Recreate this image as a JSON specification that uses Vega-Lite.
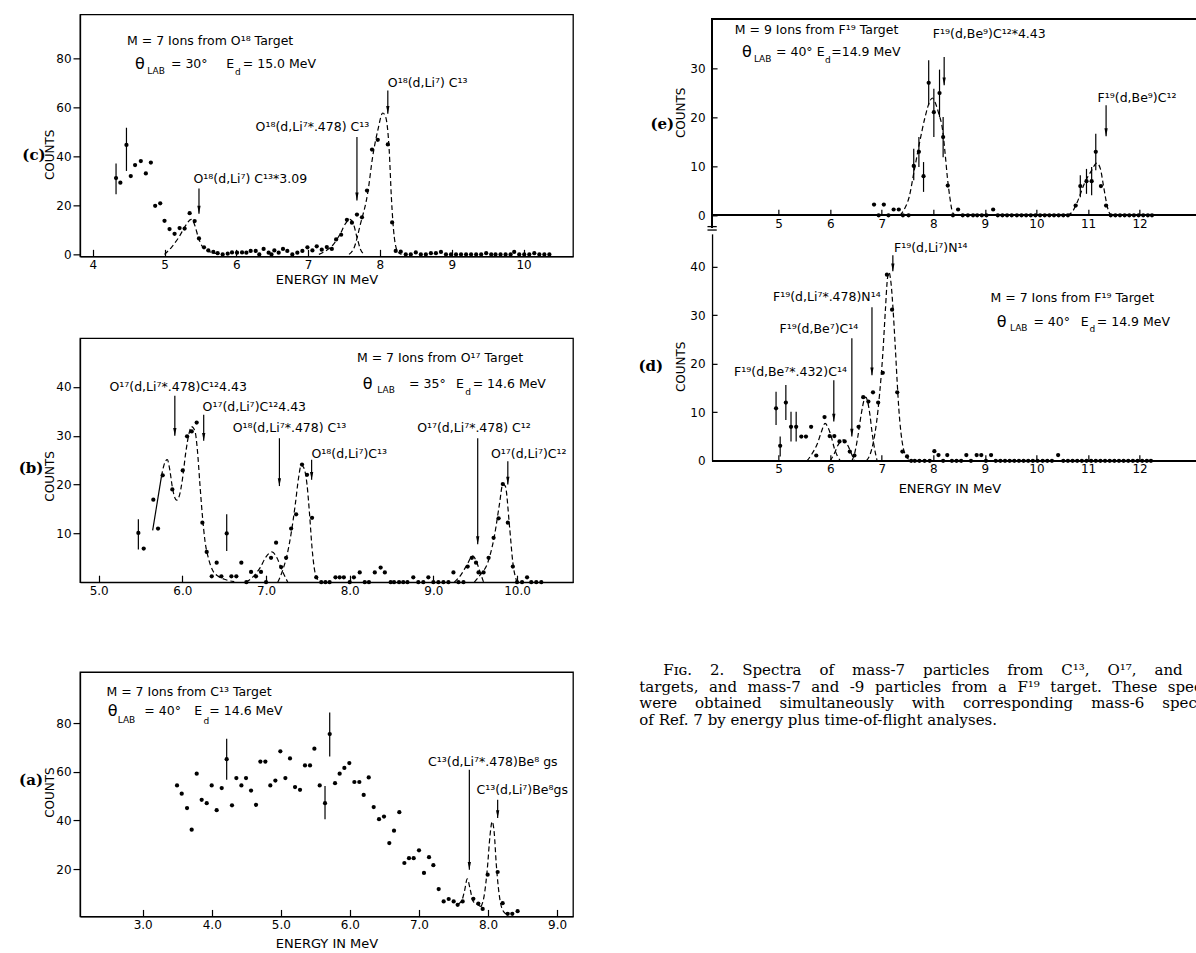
{
"$schema":"https://vega.github.io/schema/vega-lite/v6.json",
"background":"white",
"padding":{"left":0,"top":13.35,"right":0,"bottom":0},
"config":{"view":{"stroke":"black","strokeWidth":1.3},
"axis":{"domainColor":"black","domainWidth":1.3,"tickColor":"black","tickWidth":1.2,"labelColor":"black","labelFont":"DejaVu Sans","labelFontSize":12,"titleFont":"DejaVu Sans","titleFontSize":13,"titleFontWeight":"normal","titleColor":"black","grid":false,"labelFlush":false,"labelOverlap":false},
"font":"DejaVu Sans"},
"resolve":{"scale":{"x":"independent","y":"independent"}},
"datasets":{
"c":[
{"kind":"p","x":4.325,"y":31.1},{"kind":"p","x":4.385,"y":29.2},{"kind":"p","x":4.47,"y":44.6},{"kind":"p","x":4.53,"y":31.9},{"kind":"p","x":4.59,"y":36.4},{"kind":"p","x":4.67,"y":38.0},{"kind":"p","x":4.74,"y":33.0},{"kind":"p","x":4.81,"y":37.4},{"kind":"p","x":4.87,"y":19.8},{"kind":"p","x":4.94,"y":20.8},{"kind":"p","x":5.0,"y":13.7},{"kind":"p","x":5.07,"y":10.3},{"kind":"p","x":5.14,"y":8.4},{"kind":"p","x":5.21,"y":10.7},{"kind":"p","x":5.28,"y":10.5},{"kind":"p","x":5.35,"y":16.8},{"kind":"p","x":5.42,"y":13.6},{"kind":"p","x":5.48,"y":6.5},{"kind":"p","x":5.55,"y":2.9},{"kind":"p","x":5.61,"y":1.6},{"kind":"p","x":5.68,"y":1.0},{"kind":"p","x":5.74,"y":0.5},{"kind":"p","x":5.81,"y":0},{"kind":"p","x":5.88,"y":0.3},{"kind":"p","x":5.94,"y":0.8},{"kind":"p","x":6.01,"y":0.7},{"kind":"p","x":6.08,"y":0.8},{"kind":"p","x":6.14,"y":0.7},{"kind":"p","x":6.2,"y":1.4},{"kind":"p","x":6.27,"y":1.4},{"kind":"p","x":6.32,"y":0},{"kind":"p","x":6.38,"y":2.2},{"kind":"p","x":6.45,"y":0.7},{"kind":"p","x":6.49,"y":0},{"kind":"p","x":6.53,"y":1.6},{"kind":"p","x":6.59,"y":0.7},{"kind":"p","x":6.65,"y":2.2},{"kind":"p","x":6.71,"y":1.4},{"kind":"p","x":6.78,"y":0},{"kind":"p","x":6.85,"y":0.7},{"kind":"p","x":6.92,"y":1.4},{"kind":"p","x":6.99,"y":2.9},{"kind":"p","x":7.06,"y":1.6},{"kind":"p","x":7.12,"y":3.3},{"kind":"p","x":7.19,"y":1.9},{"kind":"p","x":7.26,"y":3.0},{"kind":"p","x":7.33,"y":2.2},{"kind":"p","x":7.39,"y":6.1},{"kind":"p","x":7.46,"y":8.0},{"kind":"p","x":7.54,"y":14.1},{"kind":"p","x":7.61,"y":12.9},{"kind":"p","x":7.68,"y":16.2},{"kind":"p","x":7.75,"y":15.1},{"kind":"p","x":7.82,"y":26.0},{"kind":"p","x":7.89,"y":42.7},{"kind":"p","x":7.97,"y":46.7},{"kind":"p","x":8.11,"y":44.8},{"kind":"p","x":8.17,"y":13.0},{"kind":"p","x":8.22,"y":1.4},{"kind":"p","x":8.29,"y":1.1},{"kind":"p","x":8.36,"y":0},{"kind":"p","x":8.43,"y":0},{"kind":"p","x":8.5,"y":0.8},{"kind":"p","x":8.57,"y":0},{"kind":"p","x":8.64,"y":0},{"kind":"p","x":8.71,"y":0.5},{"kind":"p","x":8.78,"y":0.5},{"kind":"p","x":8.85,"y":1.0},{"kind":"p","x":8.92,"y":0},{"kind":"p","x":8.99,"y":0},{"kind":"p","x":9.06,"y":0},{"kind":"p","x":9.13,"y":0},{"kind":"p","x":9.2,"y":0},{"kind":"p","x":9.27,"y":0},{"kind":"p","x":9.34,"y":0},{"kind":"p","x":9.41,"y":0},{"kind":"p","x":9.48,"y":0.5},{"kind":"p","x":9.55,"y":0},{"kind":"p","x":9.61,"y":0},{"kind":"p","x":9.68,"y":0},{"kind":"p","x":9.75,"y":0},{"kind":"p","x":9.82,"y":0},{"kind":"p","x":9.87,"y":1.0},{"kind":"p","x":9.94,"y":0},{"kind":"p","x":10.01,"y":0},{"kind":"p","x":10.08,"y":0},{"kind":"p","x":10.15,"y":0.5},{"kind":"p","x":10.22,"y":0},{"kind":"p","x":10.29,"y":0},{"kind":"p","x":10.36,"y":0},
{"kind":"e","x":4.325,"y":24.5,"y2":37.0},{"kind":"e","x":4.47,"y":34.0,"y2":51.6},
{"kind":"f","f":"1","x":5.0,"y":0},{"kind":"f","f":"1","x":5.1,"y":3},{"kind":"f","f":"1","x":5.2,"y":7},{"kind":"f","f":"1","x":5.3,"y":12},{"kind":"f","f":"1","x":5.37,"y":14.3},{"kind":"f","f":"1","x":5.42,"y":12},{"kind":"f","f":"1","x":5.47,"y":7},{"kind":"f","f":"1","x":5.52,"y":3.5},{"kind":"f","f":"1","x":5.6,"y":1.5},{"kind":"f","f":"1","x":5.7,"y":0.5},{"kind":"f","f":"1","x":5.8,"y":0},
{"kind":"f","f":"2","x":7.15,"y":0},{"kind":"f","f":"2","x":7.25,"y":1.5},{"kind":"f","f":"2","x":7.35,"y":4},{"kind":"f","f":"2","x":7.45,"y":8.5},{"kind":"f","f":"2","x":7.52,"y":12.5},{"kind":"f","f":"2","x":7.58,"y":14.3},{"kind":"f","f":"2","x":7.63,"y":12.5},{"kind":"f","f":"2","x":7.68,"y":7},{"kind":"f","f":"2","x":7.73,"y":2},{"kind":"f","f":"2","x":7.78,"y":0},
{"kind":"f","f":"3","x":7.57,"y":0},{"kind":"f","f":"3","x":7.64,"y":2.7},{"kind":"f","f":"3","x":7.73,"y":12.5},{"kind":"f","f":"3","x":7.83,"y":25},{"kind":"f","f":"3","x":7.9,"y":40},{"kind":"f","f":"3","x":7.97,"y":50.5},{"kind":"f","f":"3","x":8.04,"y":57.6},{"kind":"f","f":"3","x":8.08,"y":56},{"kind":"f","f":"3","x":8.13,"y":42},{"kind":"f","f":"3","x":8.16,"y":23},{"kind":"f","f":"3","x":8.2,"y":7},{"kind":"f","f":"3","x":8.25,"y":1},{"kind":"f","f":"3","x":8.3,"y":0},
{"kind":"a","x":8.11,"y":66.8,"y2":57.3},{"kind":"a","x":7.68,"y":47.8,"y2":22},{"kind":"a","x":5.48,"y":26.8,"y2":16.6},
{"kind":"tc","x":5.635,"y":87,"t":"M = 7 Ions from O¹⁸ Target"},
{"kind":"tc","x":8.665,"y":70,"t":"O¹⁸(d,Li⁷) C¹³"},
{"kind":"tc","x":7.06,"y":52,"t":"O¹⁸(d,Li⁷*.478) C¹³"},
{"kind":"tc","x":6.195,"y":30.8,"t":"O¹⁸(d,Li⁷) C¹³*3.09"},
{"kind":"tl","k":"t","x":4.59,"y":77.7,"t":"θ"},{"kind":"tl","k":"s","x":4.76,"y":74.7,"t":"LAB"},{"kind":"tl","k":"l","x":5.09,"y":77.7,"t":"= 30°"},{"kind":"tl","k":"l","x":5.86,"y":77.7,"t":"E"},{"kind":"tl","k":"s","x":5.98,"y":74.2,"t":"d"},{"kind":"tl","k":"l","x":6.09,"y":77.7,"t":"= 15.0 MeV"},
{"kind":"pl","x":3.182,"y":40.3,"t":"(c)"}
],
"b":[
{"kind":"p","x":5.474,"y":10.1},{"kind":"p","x":5.538,"y":6.9},{"kind":"p","x":5.653,"y":16.9},{"kind":"p","x":5.709,"y":11.0},{"kind":"p","x":5.765,"y":21.9},{"kind":"p","x":5.88,"y":19.0},{"kind":"p","x":6.004,"y":22.9},{"kind":"p","x":6.056,"y":29.9},{"kind":"p","x":6.112,"y":30.9},{"kind":"p","x":6.171,"y":32.7},{"kind":"p","x":6.239,"y":12.2},{"kind":"p","x":6.291,"y":6.2},{"kind":"p","x":6.351,"y":1.2},{"kind":"p","x":6.41,"y":4.0},{"kind":"p","x":6.466,"y":1.2},{"kind":"p","x":6.53,"y":10.0},{"kind":"p","x":6.586,"y":1.2},{"kind":"p","x":6.645,"y":1.2},{"kind":"p","x":6.705,"y":4.0},{"kind":"p","x":6.765,"y":0},{"kind":"p","x":6.821,"y":2.1},{"kind":"p","x":6.88,"y":1.2},{"kind":"p","x":6.94,"y":2.1},{"kind":"p","x":7.0,"y":0},{"kind":"p","x":7.06,"y":5.0},{"kind":"p","x":7.12,"y":8.1},{"kind":"p","x":7.18,"y":3.1},{"kind":"p","x":7.24,"y":5.0},{"kind":"p","x":7.3,"y":11.0},{"kind":"p","x":7.36,"y":13.9},{"kind":"p","x":7.43,"y":24.1},{"kind":"p","x":7.49,"y":22.0},{"kind":"p","x":7.55,"y":13.2},{"kind":"p","x":7.6,"y":1.0},{"kind":"p","x":7.66,"y":0},{"kind":"p","x":7.71,"y":0},{"kind":"p","x":7.76,"y":0},{"kind":"p","x":7.83,"y":1},{"kind":"p","x":7.88,"y":1},{"kind":"p","x":7.93,"y":1},{"kind":"p","x":8.0,"y":0},{"kind":"p","x":8.05,"y":1},{"kind":"p","x":8.12,"y":2},{"kind":"p","x":8.18,"y":0},{"kind":"p","x":8.23,"y":0},{"kind":"p","x":8.3,"y":2},{"kind":"p","x":8.37,"y":3},{"kind":"p","x":8.42,"y":2},{"kind":"p","x":8.49,"y":0},{"kind":"p","x":8.53,"y":0},{"kind":"p","x":8.59,"y":0},{"kind":"p","x":8.64,"y":0},{"kind":"p","x":8.69,"y":0},{"kind":"p","x":8.76,"y":1},{"kind":"p","x":8.82,"y":0},{"kind":"p","x":8.88,"y":0},{"kind":"p","x":8.94,"y":1},{"kind":"p","x":9.0,"y":0},{"kind":"p","x":9.06,"y":0},{"kind":"p","x":9.12,"y":0},{"kind":"p","x":9.18,"y":0},{"kind":"p","x":9.24,"y":2},{"kind":"p","x":9.3,"y":0},{"kind":"p","x":9.36,"y":0},{"kind":"p","x":9.41,"y":3.2},{"kind":"p","x":9.46,"y":5.0},{"kind":"p","x":9.51,"y":4.0},{"kind":"p","x":9.54,"y":2.0},{"kind":"p","x":9.6,"y":2.0},{"kind":"p","x":9.66,"y":5.0},{"kind":"p","x":9.72,"y":9.1},{"kind":"p","x":9.78,"y":13.1},{"kind":"p","x":9.83,"y":20.1},{"kind":"p","x":9.89,"y":12.2},{"kind":"p","x":9.95,"y":3.2},{"kind":"p","x":10.0,"y":0},{"kind":"p","x":10.06,"y":0},{"kind":"p","x":10.12,"y":1},{"kind":"p","x":10.17,"y":0},{"kind":"p","x":10.23,"y":0},{"kind":"p","x":10.29,"y":0},
{"kind":"e","x":5.474,"y":6.7,"y2":12.9},{"kind":"e","x":6.53,"y":6.4,"y2":13.9},
{"kind":"s","x":5.645,"y":10.6},{"kind":"s","x":5.75,"y":21.7},
{"kind":"f","f":"A","x":5.75,"y":21.7},{"kind":"f","f":"A","x":5.78,"y":24},{"kind":"f","f":"A","x":5.82,"y":25.1},{"kind":"f","f":"A","x":5.85,"y":23},{"kind":"f","f":"A","x":5.88,"y":19.5},{"kind":"f","f":"A","x":5.91,"y":17.3},{"kind":"f","f":"A","x":5.93,"y":16.8},{"kind":"f","f":"A","x":5.96,"y":17.5},{"kind":"f","f":"A","x":6.0,"y":21},{"kind":"f","f":"A","x":6.04,"y":26.5},{"kind":"f","f":"A","x":6.08,"y":30.5},{"kind":"f","f":"A","x":6.11,"y":31.9},{"kind":"f","f":"A","x":6.15,"y":31},{"kind":"f","f":"A","x":6.18,"y":27},{"kind":"f","f":"A","x":6.21,"y":20},{"kind":"f","f":"A","x":6.24,"y":13.5},{"kind":"f","f":"A","x":6.27,"y":8.5},{"kind":"f","f":"A","x":6.31,"y":5},{"kind":"f","f":"A","x":6.36,"y":2.5},{"kind":"f","f":"A","x":6.43,"y":1.2},{"kind":"f","f":"A","x":6.52,"y":0.5},{"kind":"f","f":"A","x":6.62,"y":0.1},
{"kind":"f","f":"B","x":6.76,"y":0},{"kind":"f","f":"B","x":6.85,"y":1.2},{"kind":"f","f":"B","x":6.93,"y":3},{"kind":"f","f":"B","x":7.0,"y":5.2},{"kind":"f","f":"B","x":7.07,"y":6.2},{"kind":"f","f":"B","x":7.13,"y":5},{"kind":"f","f":"B","x":7.19,"y":2.5},{"kind":"f","f":"B","x":7.26,"y":0},
{"kind":"f","f":"C","x":7.14,"y":0},{"kind":"f","f":"C","x":7.2,"y":2.5},{"kind":"f","f":"C","x":7.25,"y":5.5},{"kind":"f","f":"C","x":7.3,"y":10},{"kind":"f","f":"C","x":7.35,"y":16},{"kind":"f","f":"C","x":7.39,"y":21.5},{"kind":"f","f":"C","x":7.42,"y":24},{"kind":"f","f":"C","x":7.45,"y":23.5},{"kind":"f","f":"C","x":7.49,"y":20},{"kind":"f","f":"C","x":7.52,"y":14},{"kind":"f","f":"C","x":7.55,"y":7},{"kind":"f","f":"C","x":7.58,"y":2.5},{"kind":"f","f":"C","x":7.62,"y":0.5},
{"kind":"f","f":"D","x":9.25,"y":0},{"kind":"f","f":"D","x":9.33,"y":1.5},{"kind":"f","f":"D","x":9.4,"y":3.5},{"kind":"f","f":"D","x":9.47,"y":5.4},{"kind":"f","f":"D","x":9.52,"y":4},{"kind":"f","f":"D","x":9.56,"y":2},{"kind":"f","f":"D","x":9.6,"y":0},
{"kind":"f","f":"E","x":9.49,"y":0},{"kind":"f","f":"E","x":9.56,"y":1.5},{"kind":"f","f":"E","x":9.65,"y":4},{"kind":"f","f":"E","x":9.73,"y":9.5},{"kind":"f","f":"E","x":9.79,"y":16},{"kind":"f","f":"E","x":9.83,"y":20.1},{"kind":"f","f":"E","x":9.86,"y":19.7},{"kind":"f","f":"E","x":9.91,"y":11.5},{"kind":"f","f":"E","x":9.95,"y":4},{"kind":"f","f":"E","x":10.0,"y":0},
{"kind":"a","x":5.91,"y":38.2,"y2":30},{"kind":"a","x":6.255,"y":34.3,"y2":29},{"kind":"a","x":7.16,"y":29.5,"y2":19.7},{"kind":"a","x":7.545,"y":25.1,"y2":21},{"kind":"a","x":9.53,"y":29.5,"y2":7.8},{"kind":"a","x":9.89,"y":24.8,"y2":20},
{"kind":"tc","x":9.08,"y":45.9,"t":"M = 7 Ions from O¹⁷ Target"},
{"kind":"tc","x":5.95,"y":40,"t":"O¹⁷(d,Li⁷*.478)C¹²4.43"},
{"kind":"tc","x":6.86,"y":35.9,"t":"O¹⁷(d,Li⁷)C¹²4.43"},
{"kind":"tc","x":7.28,"y":31.6,"t":"O¹⁸(d,Li⁷*.478) C¹³"},
{"kind":"tc","x":7.995,"y":26.3,"t":"O¹⁸(d,Li⁷)C¹³"},
{"kind":"tc","x":9.485,"y":31.6,"t":"O¹⁷(d,Li⁷*.478) C¹²"},
{"kind":"tc","x":10.14,"y":26.3,"t":"O¹⁷(d,Li⁷)C¹²"},
{"kind":"tl","k":"t","x":8.155,"y":40.7,"t":"θ"},{"kind":"tl","k":"s","x":8.33,"y":39.3,"t":"LAB"},{"kind":"tl","k":"l","x":8.71,"y":40.7,"t":"= 35°"},{"kind":"tl","k":"l","x":9.27,"y":40.7,"t":"E"},{"kind":"tl","k":"s","x":9.38,"y":39.0,"t":"d"},{"kind":"tl","k":"l","x":9.47,"y":40.7,"t":"= 14.6 MeV"},
{"kind":"pl","x":4.191,"y":23.3,"t":"(b)"}
],
"a":[
{"kind":"p","x":3.497,"y":54.4},{"kind":"p","x":3.565,"y":51.0},{"kind":"p","x":3.642,"y":45.1},{"kind":"p","x":3.709,"y":36.2},{"kind":"p","x":3.782,"y":59.2},{"kind":"p","x":3.854,"y":48.5},{"kind":"p","x":3.927,"y":47.1},{"kind":"p","x":3.999,"y":54.4},{"kind":"p","x":4.071,"y":44.2},{"kind":"p","x":4.144,"y":53.3},{"kind":"p","x":4.216,"y":65.2},{"kind":"p","x":4.293,"y":46.2},{"kind":"p","x":4.356,"y":57.4},{"kind":"p","x":4.429,"y":54.4},{"kind":"p","x":4.496,"y":57.4},{"kind":"p","x":4.569,"y":52.3},{"kind":"p","x":4.641,"y":46.4},{"kind":"p","x":4.704,"y":64.2},{"kind":"p","x":4.776,"y":64.2},{"kind":"p","x":4.848,"y":54.4},{"kind":"p","x":4.921,"y":56.4},{"kind":"p","x":4.993,"y":68.4},{"kind":"p","x":5.066,"y":57.4},{"kind":"p","x":5.133,"y":65.5},{"kind":"p","x":5.206,"y":53.7},{"kind":"p","x":5.278,"y":52.6},{"kind":"p","x":5.35,"y":62.6},{"kind":"p","x":5.423,"y":62.6},{"kind":"p","x":5.486,"y":69.5},{"kind":"p","x":5.563,"y":54.4},{"kind":"p","x":5.64,"y":47.1},{"kind":"p","x":5.708,"y":75.5},{"kind":"p","x":5.785,"y":55.3},{"kind":"p","x":5.852,"y":59.2},{"kind":"p","x":5.92,"y":61.6},{"kind":"p","x":5.992,"y":63.6},{"kind":"p","x":6.065,"y":55.8},{"kind":"p","x":6.137,"y":55.8},{"kind":"p","x":6.2,"y":50.5},{"kind":"p","x":6.273,"y":57.7},{"kind":"p","x":6.345,"y":45.5},{"kind":"p","x":6.422,"y":40.5},{"kind":"p","x":6.494,"y":41.6},{"kind":"p","x":6.571,"y":30.7},{"kind":"p","x":6.639,"y":35.8},{"kind":"p","x":6.716,"y":43.4},{"kind":"p","x":6.789,"y":22.5},{"kind":"p","x":6.856,"y":24.5},{"kind":"p","x":6.924,"y":24.5},{"kind":"p","x":7.001,"y":27.7},{"kind":"p","x":7.073,"y":18.4},{"kind":"p","x":7.146,"y":24.9},{"kind":"p","x":7.209,"y":21.6},{"kind":"p","x":7.286,"y":11.8},{"kind":"p","x":7.358,"y":6.7},{"kind":"p","x":7.431,"y":7.7},{"kind":"p","x":7.503,"y":6.7},{"kind":"p","x":7.561,"y":5.3},{"kind":"p","x":7.633,"y":6.7},{"kind":"p","x":7.788,"y":7.8},{"kind":"p","x":7.86,"y":5.8},{"kind":"p","x":7.923,"y":3.6},{"kind":"p","x":7.995,"y":17.7},{"kind":"p","x":8.14,"y":18.8},{"kind":"p","x":8.212,"y":6.0},{"kind":"p","x":8.285,"y":1.6},{"kind":"p","x":8.352,"y":1.6},{"kind":"p","x":8.429,"y":2.7},
{"kind":"e","x":4.216,"y":56.7,"y2":73.6},{"kind":"e","x":5.64,"y":40.5,"y2":54.2},{"kind":"e","x":5.708,"y":66.3,"y2":84.4},
{"kind":"f","f":"s","x":7.56,"y":5.5},{"kind":"f","f":"s","x":7.62,"y":7},{"kind":"f","f":"s","x":7.66,"y":11},{"kind":"f","f":"s","x":7.7,"y":16},{"kind":"f","f":"s","x":7.74,"y":12},{"kind":"f","f":"s","x":7.78,"y":7},{"kind":"f","f":"s","x":7.84,"y":5.5},{"kind":"f","f":"s","x":7.9,"y":4.5},
{"kind":"f","f":"b","x":7.9,"y":4.5},{"kind":"f","f":"b","x":7.95,"y":10},{"kind":"f","f":"b","x":7.99,"y":20},{"kind":"f","f":"b","x":8.03,"y":34},{"kind":"f","f":"b","x":8.06,"y":39.5},{"kind":"f","f":"b","x":8.09,"y":35},{"kind":"f","f":"b","x":8.12,"y":22},{"kind":"f","f":"b","x":8.16,"y":10},{"kind":"f","f":"b","x":8.2,"y":4},{"kind":"f","f":"b","x":8.26,"y":1.5},
{"kind":"a","x":7.73,"y":60.8,"y2":19.7},{"kind":"a","x":8.14,"y":48.5,"y2":41},
{"kind":"tc","x":3.67,"y":92.6,"t":"M = 7 Ions from C¹³ Target"},
{"kind":"tc","x":8.07,"y":64.2,"t":"C¹³(d,Li⁷*.478)Be⁸ gs"},
{"kind":"tc","x":8.495,"y":52.6,"t":"C¹³(d,Li⁷)Be⁸gs"},
{"kind":"tl","k":"t","x":2.493,"y":84.8,"t":"θ"},{"kind":"tl","k":"s","x":2.638,"y":81.4,"t":"LAB"},{"kind":"tl","k":"l","x":3.024,"y":84.8,"t":"= 40°"},{"kind":"tl","k":"l","x":3.748,"y":84.8,"t":"E"},{"kind":"tl","k":"s","x":3.88,"y":80.7,"t":"d"},{"kind":"tl","k":"l","x":3.965,"y":84.8,"t":"= 14.6 MeV"},
{"kind":"pl","x":1.383,"y":56.7,"t":"(a)"}
],
"e":[
{"kind":"p","x":6.85,"y":2.2},{"kind":"p","x":6.94,"y":0},{"kind":"p","x":7.04,"y":2.2},{"kind":"p","x":7.13,"y":0},{"kind":"p","x":7.23,"y":1.2},{"kind":"p","x":7.33,"y":1.2},{"kind":"p","x":7.41,"y":0},{"kind":"p","x":7.52,"y":0},{"kind":"p","x":7.62,"y":10.1},{"kind":"p","x":7.72,"y":13.0},{"kind":"p","x":7.81,"y":8.0},{"kind":"p","x":7.91,"y":27.1},{"kind":"p","x":8.01,"y":21.1},{"kind":"p","x":8.12,"y":25.0},{"kind":"p","x":8.19,"y":16.0},{"kind":"p","x":8.28,"y":6.1},{"kind":"p","x":8.38,"y":0},{"kind":"p","x":8.48,"y":1.2},{"kind":"p","x":8.57,"y":0},{"kind":"p","x":8.67,"y":0},{"kind":"p","x":8.77,"y":0},{"kind":"p","x":8.85,"y":0},{"kind":"p","x":8.94,"y":0},{"kind":"p","x":9.03,"y":0},{"kind":"p","x":9.16,"y":1.2},{"kind":"p","x":9.25,"y":0},{"kind":"p","x":9.34,"y":0},{"kind":"p","x":9.43,"y":0},{"kind":"p","x":9.52,"y":0},{"kind":"p","x":9.62,"y":0},{"kind":"p","x":9.71,"y":0},{"kind":"p","x":9.8,"y":0},{"kind":"p","x":9.89,"y":0},{"kind":"p","x":9.98,"y":0},{"kind":"p","x":10.07,"y":0},{"kind":"p","x":10.16,"y":0},{"kind":"p","x":10.25,"y":0},{"kind":"p","x":10.34,"y":0},{"kind":"p","x":10.43,"y":0},{"kind":"p","x":10.52,"y":0},{"kind":"p","x":10.61,"y":0},{"kind":"p","x":10.76,"y":2.0},{"kind":"p","x":10.85,"y":6.0},{"kind":"p","x":10.97,"y":7.0},{"kind":"p","x":11.07,"y":7.0},{"kind":"p","x":11.15,"y":13.0},{"kind":"p","x":11.25,"y":6.0},{"kind":"p","x":11.35,"y":2.0},{"kind":"p","x":11.44,"y":0},{"kind":"p","x":11.53,"y":0},{"kind":"p","x":11.62,"y":0},{"kind":"p","x":11.71,"y":0},{"kind":"p","x":11.8,"y":0},{"kind":"p","x":11.89,"y":0},{"kind":"p","x":11.98,"y":0},{"kind":"p","x":12.07,"y":0},{"kind":"p","x":12.16,"y":0},{"kind":"p","x":12.24,"y":0},
{"kind":"e","x":7.62,"y":7.2,"y2":13.6},{"kind":"e","x":7.72,"y":9.9,"y2":16.0},{"kind":"e","x":7.81,"y":4.8,"y2":10.9},{"kind":"e","x":7.91,"y":22.5,"y2":31.7},{"kind":"e","x":8.01,"y":16.0,"y2":25.9},{"kind":"e","x":8.12,"y":20.1,"y2":29.8},{"kind":"e","x":8.19,"y":11.9,"y2":20.1},{"kind":"e","x":10.85,"y":3.7,"y2":8.2},{"kind":"e","x":10.97,"y":4.4,"y2":9.5},{"kind":"e","x":11.07,"y":4.1,"y2":9.9},{"kind":"e","x":11.15,"y":9.2,"y2":16.7},
{"kind":"f","f":"1","x":7.35,"y":0},{"kind":"f","f":"1","x":7.45,"y":1.5},{"kind":"f","f":"1","x":7.53,"y":3.7},{"kind":"f","f":"1","x":7.63,"y":9.2},{"kind":"f","f":"1","x":7.73,"y":14.7},{"kind":"f","f":"1","x":7.84,"y":20.1},{"kind":"f","f":"1","x":7.94,"y":23.5},{"kind":"f","f":"1","x":7.98,"y":24},{"kind":"f","f":"1","x":8.03,"y":23.2},{"kind":"f","f":"1","x":8.1,"y":21},{"kind":"f","f":"1","x":8.18,"y":17.4},{"kind":"f","f":"1","x":8.23,"y":12.5},{"kind":"f","f":"1","x":8.27,"y":8},{"kind":"f","f":"1","x":8.32,"y":3.7},{"kind":"f","f":"1","x":8.37,"y":0.7},{"kind":"f","f":"1","x":8.42,"y":0},
{"kind":"f","f":"2","x":10.6,"y":0},{"kind":"f","f":"2","x":10.7,"y":0.8},{"kind":"f","f":"2","x":10.79,"y":2.7},{"kind":"f","f":"2","x":10.93,"y":6.5},{"kind":"f","f":"2","x":11.07,"y":9.2},{"kind":"f","f":"2","x":11.17,"y":10.7},{"kind":"f","f":"2","x":11.24,"y":9.5},{"kind":"f","f":"2","x":11.3,"y":6},{"kind":"f","f":"2","x":11.35,"y":3},{"kind":"f","f":"2","x":11.4,"y":0.8},{"kind":"f","f":"2","x":11.45,"y":0},
{"kind":"a","x":8.21,"y":32.4,"y2":26.6},{"kind":"a","x":11.35,"y":22.5,"y2":16.2},
{"kind":"tc","x":5.735,"y":37.9,"t":"M = 9 Ions from F¹⁹ Target"},
{"kind":"tc","x":9.085,"y":37.0,"t":"F¹⁹(d,Be⁹)C¹²*4.43"},
{"kind":"tc","x":11.95,"y":23.9,"t":"F¹⁹(d,Be⁹)C¹²"},
{"kind":"tl","k":"t","x":4.29,"y":33.4,"t":"θ"},{"kind":"tl","k":"s","x":4.52,"y":32.0,"t":"LAB"},{"kind":"tl","k":"l","x":4.95,"y":33.4,"t":"= 40°"},{"kind":"tl","k":"l","x":5.74,"y":33.4,"t":"E"},{"kind":"tl","k":"s","x":5.9,"y":31.8,"t":"d"},{"kind":"tl","k":"l","x":6.02,"y":33.4,"t":"=14.9 MeV"},
{"kind":"pl","x":2.745,"y":18.6,"t":"(e)"},
{"kind":"br","x":3.62,"x2":3.8,"y":-2.3},{"kind":"br","x":3.62,"x2":3.8,"y":-3.0}
],
"d":[
{"kind":"p","x":4.95,"y":10.8},{"kind":"p","x":5.03,"y":3.1},{"kind":"p","x":5.14,"y":12.0},{"kind":"p","x":5.24,"y":7.0},{"kind":"p","x":5.34,"y":7.0},{"kind":"p","x":5.44,"y":5.0},{"kind":"p","x":5.53,"y":5.0},{"kind":"p","x":5.63,"y":7.0},{"kind":"p","x":5.73,"y":1.1},{"kind":"p","x":5.89,"y":9.0},{"kind":"p","x":5.99,"y":5.1},{"kind":"p","x":6.08,"y":5.1},{"kind":"p","x":6.18,"y":4.0},{"kind":"p","x":6.28,"y":4.0},{"kind":"p","x":6.38,"y":1.9},{"kind":"p","x":6.47,"y":1.1},{"kind":"p","x":6.55,"y":7.0},{"kind":"p","x":6.64,"y":13.1},{"kind":"p","x":6.74,"y":12.2},{"kind":"p","x":6.83,"y":14.1},{"kind":"p","x":6.93,"y":12.0},{"kind":"p","x":7.02,"y":18.1},{"kind":"p","x":7.1,"y":38.3},{"kind":"p","x":7.2,"y":31.1},{"kind":"p","x":7.3,"y":14.1},{"kind":"p","x":7.4,"y":1.9},{"kind":"p","x":7.49,"y":0.9},{"kind":"p","x":7.57,"y":0},{"kind":"p","x":7.64,"y":0},{"kind":"p","x":7.73,"y":0},{"kind":"p","x":7.83,"y":0},{"kind":"p","x":7.93,"y":0},{"kind":"p","x":8.02,"y":2.0},{"kind":"p","x":8.1,"y":1.2},{"kind":"p","x":8.19,"y":0},{"kind":"p","x":8.27,"y":1.2},{"kind":"p","x":8.36,"y":0},{"kind":"p","x":8.45,"y":0},{"kind":"p","x":8.54,"y":0},{"kind":"p","x":8.64,"y":1.2},{"kind":"p","x":8.73,"y":0},{"kind":"p","x":8.84,"y":1.2},{"kind":"p","x":8.93,"y":1.2},{"kind":"p","x":9.02,"y":0},{"kind":"p","x":9.12,"y":1.2},{"kind":"p","x":9.21,"y":0},{"kind":"p","x":9.3,"y":0},{"kind":"p","x":9.39,"y":0},{"kind":"p","x":9.48,"y":0},{"kind":"p","x":9.57,"y":0},{"kind":"p","x":9.66,"y":0},{"kind":"p","x":9.75,"y":0},{"kind":"p","x":9.84,"y":0},{"kind":"p","x":9.93,"y":0},{"kind":"p","x":10.02,"y":0},{"kind":"p","x":10.12,"y":0},{"kind":"p","x":10.21,"y":0},{"kind":"p","x":10.3,"y":0},{"kind":"p","x":10.42,"y":1.2},{"kind":"p","x":10.52,"y":0},{"kind":"p","x":10.61,"y":0},{"kind":"p","x":10.7,"y":0},{"kind":"p","x":10.79,"y":0},{"kind":"p","x":10.88,"y":0},{"kind":"p","x":10.97,"y":0},{"kind":"p","x":11.06,"y":0},{"kind":"p","x":11.15,"y":0},{"kind":"p","x":11.24,"y":0},{"kind":"p","x":11.33,"y":0},{"kind":"p","x":11.42,"y":0},{"kind":"p","x":11.51,"y":0},{"kind":"p","x":11.6,"y":0},{"kind":"p","x":11.69,"y":0},{"kind":"p","x":11.78,"y":0},{"kind":"p","x":11.87,"y":0},{"kind":"p","x":11.96,"y":0},{"kind":"p","x":12.05,"y":0},{"kind":"p","x":12.14,"y":0},{"kind":"p","x":12.22,"y":0},
{"kind":"e","x":4.95,"y":7.4,"y2":14.2},{"kind":"e","x":5.03,"y":0.9,"y2":5.0},{"kind":"e","x":5.14,"y":8.4,"y2":15.6},{"kind":"e","x":5.24,"y":4.0,"y2":10.1},{"kind":"e","x":5.34,"y":4.0,"y2":10.1},
{"kind":"f","f":"A","x":5.55,"y":0},{"kind":"f","f":"A","x":5.65,"y":1.5},{"kind":"f","f":"A","x":5.75,"y":3.5},{"kind":"f","f":"A","x":5.83,"y":6},{"kind":"f","f":"A","x":5.9,"y":7.7},{"kind":"f","f":"A","x":5.96,"y":6.8},{"kind":"f","f":"A","x":6.02,"y":5},{"kind":"f","f":"A","x":6.08,"y":2.6},{"kind":"f","f":"A","x":6.14,"y":1},{"kind":"f","f":"A","x":6.2,"y":0},
{"kind":"f","f":"B","x":6.0,"y":0},{"kind":"f","f":"B","x":6.08,"y":1.5},{"kind":"f","f":"B","x":6.16,"y":3.4},{"kind":"f","f":"B","x":6.26,"y":4.3},{"kind":"f","f":"B","x":6.34,"y":3.2},{"kind":"f","f":"B","x":6.41,"y":1.5},{"kind":"f","f":"B","x":6.47,"y":0},
{"kind":"f","f":"C","x":6.42,"y":0},{"kind":"f","f":"C","x":6.48,"y":1.8},{"kind":"f","f":"C","x":6.53,"y":4.6},{"kind":"f","f":"C","x":6.6,"y":9.5},{"kind":"f","f":"C","x":6.66,"y":12.6},{"kind":"f","f":"C","x":6.69,"y":13.1},{"kind":"f","f":"C","x":6.73,"y":12},{"kind":"f","f":"C","x":6.77,"y":9.5},{"kind":"f","f":"C","x":6.81,"y":6},{"kind":"f","f":"C","x":6.86,"y":2.5},{"kind":"f","f":"C","x":6.91,"y":0},
{"kind":"f","f":"D","x":6.7,"y":0},{"kind":"f","f":"D","x":6.78,"y":1.5},{"kind":"f","f":"D","x":6.84,"y":4},{"kind":"f","f":"D","x":6.9,"y":8},{"kind":"f","f":"D","x":6.96,"y":14},{"kind":"f","f":"D","x":7.02,"y":22},{"kind":"f","f":"D","x":7.07,"y":31},{"kind":"f","f":"D","x":7.11,"y":37.5},{"kind":"f","f":"D","x":7.14,"y":38.8},{"kind":"f","f":"D","x":7.18,"y":36.5},{"kind":"f","f":"D","x":7.22,"y":31},{"kind":"f","f":"D","x":7.26,"y":23.8},{"kind":"f","f":"D","x":7.3,"y":16},{"kind":"f","f":"D","x":7.33,"y":10.8},{"kind":"f","f":"D","x":7.37,"y":6},{"kind":"f","f":"D","x":7.41,"y":3},{"kind":"f","f":"D","x":7.46,"y":1.2},{"kind":"f","f":"D","x":7.52,"y":0.3},
{"kind":"a","x":7.215,"y":42.3,"y2":39},{"kind":"a","x":6.81,"y":31.6,"y2":17.6},{"kind":"a","x":6.42,"y":25.2,"y2":5},{"kind":"a","x":6.07,"y":16.6,"y2":8.1},
{"kind":"tc","x":7.95,"y":43.7,"t":"F¹⁹(d,Li⁷)N¹⁴"},
{"kind":"tc","x":5.935,"y":33.7,"t":"F¹⁹(d,Li⁷*.478)N¹⁴"},
{"kind":"tc","x":5.78,"y":27.1,"t":"F¹⁹(d,Be⁷)C¹⁴"},
{"kind":"tc","x":5.23,"y":18.3,"t":"F¹⁹(d,Be⁷*.432)C¹⁴"},
{"kind":"tc","x":10.695,"y":33.4,"t":"M = 7 Ions from F¹⁹ Target"},
{"kind":"tl","k":"t","x":9.23,"y":28.6,"t":"θ"},{"kind":"tl","k":"s","x":9.485,"y":27.4,"t":"LAB"},{"kind":"tl","k":"l","x":9.94,"y":28.6,"t":"= 40°"},{"kind":"tl","k":"l","x":10.86,"y":28.6,"t":"E"},{"kind":"tl","k":"s","x":11.03,"y":27.2,"t":"d"},{"kind":"tl","k":"l","x":11.17,"y":28.6,"t":"= 14.9 MeV"},
{"kind":"pl","x":2.52,"y":19.6,"t":"(d)"}
]
},
"hconcat":[
{"vconcat":[
{"width":493,"height":242,"data":{"name":"c"},
"encoding":{"x":{"field":"x","type":"quantitative","scale":{"domain":[3.823,10.689],"nice":false,"zero":false},"axis":{"values":[4,5,6,7,8,9,10],"format":"d","tickSize":-7,"labelPadding":10,"minExtent":13,"maxExtent":13,"title":"ENERGY IN MeV","titlePadding":4}},
"y":{"field":"y","type":"quantitative","scale":{"domain":[-0.8,97.8],"nice":false,"zero":false},"axis":{"values":[0,20,40,60,80],"tickSize":7,"labelPadding":2,"minExtent":79,"maxExtent":79,"title":"COUNTS","titleX":-31,"titleY":140,"titleAngle":-90,"titleBaseline":"middle","titleAlign":"center","titleFontSize":12}}},
"layer":[
{"transform":[{"filter":"datum.kind==='e'"}],"mark":{"type":"rule","color":"black","strokeWidth":1.2},"encoding":{"y2":{"field":"y2"}}},
{"transform":[{"filter":"datum.kind==='f'"}],"mark":{"type":"line","color":"black","strokeWidth":1.2,"strokeDash":[5,3],"interpolate":"monotone"},"encoding":{"detail":{"field":"f","type":"nominal"}}},
{"transform":[{"filter":"datum.kind==='p'"}],"mark":{"type":"point","filled":true,"size":18,"color":"black","opacity":1}},
{"transform":[{"filter":"datum.kind==='a'"}],"mark":{"type":"rule","color":"black","strokeWidth":1.2},"encoding":{"y2":{"field":"y2"}}},
{"transform":[{"filter":"datum.kind==='a'"}],"mark":{"type":"point","shape":"M0,0L-0.55,-2.6L0.55,-2.6Z","filled":true,"size":36,"color":"black","opacity":1},"encoding":{"y":{"field":"y2","type":"quantitative"}}},
{"transform":[{"filter":"datum.kind==='tc'"}],"mark":{"type":"text","font":"DejaVu Sans","fontSize":12.5,"align":"center","baseline":"middle","color":"black","clip":true},"encoding":{"text":{"field":"t"}}},
{"transform":[{"filter":"datum.kind==='tl' && datum.k==='l'"}],"mark":{"type":"text","font":"DejaVu Sans","fontSize":12.5,"align":"left","baseline":"middle","color":"black","clip":true},"encoding":{"text":{"field":"t"}}},
{"transform":[{"filter":"datum.kind==='tl' && datum.k==='s'"}],"mark":{"type":"text","font":"DejaVu Sans","fontSize":9,"align":"left","baseline":"middle","color":"black","clip":true},"encoding":{"text":{"field":"t"}}},
{"transform":[{"filter":"datum.kind==='tl' && datum.k==='t'"}],"mark":{"type":"text","font":"DejaVu Sans","fontSize":16,"align":"left","baseline":"middle","color":"black","clip":true},"encoding":{"text":{"field":"t"}}},
{"transform":[{"filter":"datum.kind==='pl'"}],"mark":{"type":"text","font":"DejaVu Serif","fontSize":15,"fontWeight":"bold","align":"center","baseline":"middle","color":"black"},"encoding":{"text":{"field":"t"}}}
]},
{"width":493,"height":244,"data":{"name":"b"},
"encoding":{"x":{"field":"x","type":"quantitative","scale":{"domain":[4.7765,10.669],"nice":false,"zero":false},"axis":{"values":[5,6,7,8,9,10],"format":".1f","tickSize":-7,"labelPadding":10,"minExtent":37.7,"maxExtent":37.7,"title":null}},
"y":{"field":"y","type":"quantitative","scale":{"domain":[0,50],"nice":false,"zero":false},"axis":{"values":[10,20,30,40],"tickSize":7,"labelPadding":2,"minExtent":79,"maxExtent":79,"title":"COUNTS","titleX":-31,"titleY":137.7,"titleAngle":-90,"titleBaseline":"middle","titleAlign":"center","titleFontSize":12}}},
"layer":[
{"transform":[{"filter":"datum.kind==='e'"}],"mark":{"type":"rule","color":"black","strokeWidth":1.2},"encoding":{"y2":{"field":"y2"}}},
{"transform":[{"filter":"datum.kind==='f'"}],"mark":{"type":"line","color":"black","strokeWidth":1.2,"strokeDash":[5,3],"interpolate":"monotone"},"encoding":{"detail":{"field":"f","type":"nominal"}}},
{"transform":[{"filter":"datum.kind==='s'"}],"mark":{"type":"line","color":"black","strokeWidth":1.2}},
{"transform":[{"filter":"datum.kind==='p'"}],"mark":{"type":"point","filled":true,"size":18,"color":"black","opacity":1}},
{"transform":[{"filter":"datum.kind==='a'"}],"mark":{"type":"rule","color":"black","strokeWidth":1.2},"encoding":{"y2":{"field":"y2"}}},
{"transform":[{"filter":"datum.kind==='a'"}],"mark":{"type":"point","shape":"M0,0L-0.55,-2.6L0.55,-2.6Z","filled":true,"size":36,"color":"black","opacity":1},"encoding":{"y":{"field":"y2","type":"quantitative"}}},
{"transform":[{"filter":"datum.kind==='tc'"}],"mark":{"type":"text","font":"DejaVu Sans","fontSize":12.5,"align":"center","baseline":"middle","color":"black","clip":true},"encoding":{"text":{"field":"t"}}},
{"transform":[{"filter":"datum.kind==='tl' && datum.k==='l'"}],"mark":{"type":"text","font":"DejaVu Sans","fontSize":12.5,"align":"left","baseline":"middle","color":"black","clip":true},"encoding":{"text":{"field":"t"}}},
{"transform":[{"filter":"datum.kind==='tl' && datum.k==='s'"}],"mark":{"type":"text","font":"DejaVu Sans","fontSize":9,"align":"left","baseline":"middle","color":"black","clip":true},"encoding":{"text":{"field":"t"}}},
{"transform":[{"filter":"datum.kind==='tl' && datum.k==='t'"}],"mark":{"type":"text","font":"DejaVu Sans","fontSize":16,"align":"left","baseline":"middle","color":"black","clip":true},"encoding":{"text":{"field":"t"}}},
{"transform":[{"filter":"datum.kind==='pl'"}],"mark":{"type":"text","font":"DejaVu Serif","fontSize":15,"fontWeight":"bold","align":"center","baseline":"middle","color":"black"},"encoding":{"text":{"field":"t"}}}
]},
{"width":493,"height":244.4,"data":{"name":"a"},
"encoding":{"x":{"field":"x","type":"quantitative","scale":{"domain":[2.092,9.231],"nice":false,"zero":false},"axis":{"values":[3,4,5,6,7,8,9],"format":".1f","tickSize":-7,"labelPadding":10,"minExtent":13,"maxExtent":13,"title":"ENERGY IN MeV","titlePadding":8}},
"y":{"field":"y","type":"quantitative","scale":{"domain":[0.53,101],"nice":false,"zero":false},"axis":{"values":[20,40,60,80],"tickSize":7,"labelPadding":2,"minExtent":79,"maxExtent":79,"title":"COUNTS","titleX":-31,"titleY":120,"titleAngle":-90,"titleBaseline":"middle","titleAlign":"center","titleFontSize":12}}},
"layer":[
{"transform":[{"filter":"datum.kind==='e'"}],"mark":{"type":"rule","color":"black","strokeWidth":1.2},"encoding":{"y2":{"field":"y2"}}},
{"transform":[{"filter":"datum.kind==='f'"}],"mark":{"type":"line","color":"black","strokeWidth":1.2,"strokeDash":[5,3],"interpolate":"monotone"},"encoding":{"detail":{"field":"f","type":"nominal"}}},
{"transform":[{"filter":"datum.kind==='p'"}],"mark":{"type":"point","filled":true,"size":18,"color":"black","opacity":1}},
{"transform":[{"filter":"datum.kind==='a'"}],"mark":{"type":"rule","color":"black","strokeWidth":1.2},"encoding":{"y2":{"field":"y2"}}},
{"transform":[{"filter":"datum.kind==='a'"}],"mark":{"type":"point","shape":"M0,0L-0.55,-2.6L0.55,-2.6Z","filled":true,"size":36,"color":"black","opacity":1},"encoding":{"y":{"field":"y2","type":"quantitative"}}},
{"transform":[{"filter":"datum.kind==='tc'"}],"mark":{"type":"text","font":"DejaVu Sans","fontSize":12.5,"align":"center","baseline":"middle","color":"black","clip":true},"encoding":{"text":{"field":"t"}}},
{"transform":[{"filter":"datum.kind==='tl' && datum.k==='l'"}],"mark":{"type":"text","font":"DejaVu Sans","fontSize":12.5,"align":"left","baseline":"middle","color":"black","clip":true},"encoding":{"text":{"field":"t"}}},
{"transform":[{"filter":"datum.kind==='tl' && datum.k==='s'"}],"mark":{"type":"text","font":"DejaVu Sans","fontSize":9,"align":"left","baseline":"middle","color":"black","clip":true},"encoding":{"text":{"field":"t"}}},
{"transform":[{"filter":"datum.kind==='tl' && datum.k==='t'"}],"mark":{"type":"text","font":"DejaVu Sans","fontSize":16,"align":"left","baseline":"middle","color":"black","clip":true},"encoding":{"text":{"field":"t"}}},
{"transform":[{"filter":"datum.kind==='pl'"}],"mark":{"type":"text","font":"DejaVu Serif","fontSize":15,"fontWeight":"bold","align":"center","baseline":"middle","color":"black"},"encoding":{"text":{"field":"t"}}}
]}
],"spacing":49.85,"resolve":{"scale":{"x":"independent","y":"independent"}}},
{"vconcat":[
{"width":557.5,"height":213,"view":{"stroke":null,"fill":"white"},"data":{"name":"e"},
"encoding":{"x":{"field":"x","type":"quantitative","scale":{"domain":[2.299,13.11],"nice":false,"zero":false},"axis":{"values":[5,6,7,8,9,10,11,12],"format":"d","domain":false,"tickSize":-6,"labelPadding":9,"offset":-12,"minExtent":15,"maxExtent":15,"title":null}},
"y":{"field":"y","type":"quantitative","scale":{"domain":[-2.45,41.1],"nice":false,"zero":false},"axis":{"values":[0,10,20,30],"domain":false,"offset":-72.7,"tickSize":-5,"labelPadding":12,"minExtent":20,"maxExtent":20,"title":"COUNTS","titleX":-31.7,"titleY":98,"titleAngle":-90,"titleBaseline":"middle","titleAlign":"center","titleFontSize":12}}},
"layer":[
{"mark":{"type":"rule","color":"black","strokeWidth":1.3},"encoding":{"x":{"datum":3.709},"x2":{"datum":13.11},"y":{"datum":40.2}}},
{"mark":{"type":"rule","color":"black","strokeWidth":1.3},"encoding":{"x":{"datum":3.709},"x2":{"datum":13.11},"y":{"datum":0}}},
{"mark":{"type":"rule","color":"black","strokeWidth":1.3},"encoding":{"x":{"datum":3.709},"y":{"datum":-2.45},"y2":{"datum":40.2}}},
{"transform":[{"filter":"datum.kind==='br'"}],"mark":{"type":"rule","color":"black","strokeWidth":1.3},"encoding":{"x2":{"field":"x2"}}},
{"transform":[{"filter":"datum.kind==='e'"}],"mark":{"type":"rule","color":"black","strokeWidth":1.2},"encoding":{"y2":{"field":"y2"}}},
{"transform":[{"filter":"datum.kind==='f'"}],"mark":{"type":"line","color":"black","strokeWidth":1.2,"strokeDash":[5,3],"interpolate":"monotone"},"encoding":{"detail":{"field":"f","type":"nominal"}}},
{"transform":[{"filter":"datum.kind==='p'"}],"mark":{"type":"point","filled":true,"size":18,"color":"black","opacity":1}},
{"transform":[{"filter":"datum.kind==='a'"}],"mark":{"type":"rule","color":"black","strokeWidth":1.2},"encoding":{"y2":{"field":"y2"}}},
{"transform":[{"filter":"datum.kind==='a'"}],"mark":{"type":"point","shape":"M0,0L-0.55,-2.6L0.55,-2.6Z","filled":true,"size":36,"color":"black","opacity":1},"encoding":{"y":{"field":"y2","type":"quantitative"}}},
{"transform":[{"filter":"datum.kind==='tc'"}],"mark":{"type":"text","font":"DejaVu Sans","fontSize":12.5,"align":"center","baseline":"middle","color":"black","clip":true},"encoding":{"text":{"field":"t"}}},
{"transform":[{"filter":"datum.kind==='tl' && datum.k==='l'"}],"mark":{"type":"text","font":"DejaVu Sans","fontSize":12.5,"align":"left","baseline":"middle","color":"black","clip":true},"encoding":{"text":{"field":"t"}}},
{"transform":[{"filter":"datum.kind==='tl' && datum.k==='s'"}],"mark":{"type":"text","font":"DejaVu Sans","fontSize":9,"align":"left","baseline":"middle","color":"black","clip":true},"encoding":{"text":{"field":"t"}}},
{"transform":[{"filter":"datum.kind==='tl' && datum.k==='t'"}],"mark":{"type":"text","font":"DejaVu Sans","fontSize":16,"align":"left","baseline":"middle","color":"black","clip":true},"encoding":{"text":{"field":"t"}}},
{"transform":[{"filter":"datum.kind==='pl'"}],"mark":{"type":"text","font":"DejaVu Serif","fontSize":15,"fontWeight":"bold","align":"center","baseline":"middle","color":"black","clip":true},"encoding":{"text":{"field":"t"}}}
]},
{"width":557.5,"height":227,"view":{"stroke":null,"fill":"white"},"data":{"name":"d"},
"encoding":{"x":{"field":"x","type":"quantitative","scale":{"domain":[2.299,13.11],"nice":false,"zero":false},"axis":{"values":[5,6,7,8,9,10,11,12],"format":"d","domain":false,"tickSize":-6,"labelPadding":9,"minExtent":15,"maxExtent":15,"title":"ENERGY IN MeV","titleX":310,"titleY":22}},
"y":{"field":"y","type":"quantitative","scale":{"domain":[0,46.7],"nice":false,"zero":false},"axis":{"values":[0,10,20,30,40],"domain":true,"offset":-72.7,"tickSize":-5,"labelPadding":12,"minExtent":20,"maxExtent":20,"title":"COUNTS","titleX":-31.7,"titleY":132.5,"titleAngle":-90,"titleBaseline":"middle","titleAlign":"center","titleFontSize":12}}},
"layer":[
{"mark":{"type":"rule","color":"black","strokeWidth":1.3},"encoding":{"x":{"datum":3.709},"x2":{"datum":13.11},"y":{"datum":0}}},
{"transform":[{"filter":"datum.kind==='e'"}],"mark":{"type":"rule","color":"black","strokeWidth":1.2},"encoding":{"y2":{"field":"y2"}}},
{"transform":[{"filter":"datum.kind==='f'"}],"mark":{"type":"line","color":"black","strokeWidth":1.2,"strokeDash":[5,3],"interpolate":"monotone"},"encoding":{"detail":{"field":"f","type":"nominal"}}},
{"transform":[{"filter":"datum.kind==='p'"}],"mark":{"type":"point","filled":true,"size":18,"color":"black","opacity":1}},
{"transform":[{"filter":"datum.kind==='a'"}],"mark":{"type":"rule","color":"black","strokeWidth":1.2},"encoding":{"y2":{"field":"y2"}}},
{"transform":[{"filter":"datum.kind==='a'"}],"mark":{"type":"point","shape":"M0,0L-0.55,-2.6L0.55,-2.6Z","filled":true,"size":36,"color":"black","opacity":1},"encoding":{"y":{"field":"y2","type":"quantitative"}}},
{"transform":[{"filter":"datum.kind==='tc'"}],"mark":{"type":"text","font":"DejaVu Sans","fontSize":12.5,"align":"center","baseline":"middle","color":"black","clip":true},"encoding":{"text":{"field":"t"}}},
{"transform":[{"filter":"datum.kind==='tl' && datum.k==='l'"}],"mark":{"type":"text","font":"DejaVu Sans","fontSize":12.5,"align":"left","baseline":"middle","color":"black","clip":true},"encoding":{"text":{"field":"t"}}},
{"transform":[{"filter":"datum.kind==='tl' && datum.k==='s'"}],"mark":{"type":"text","font":"DejaVu Sans","fontSize":9,"align":"left","baseline":"middle","color":"black","clip":true},"encoding":{"text":{"field":"t"}}},
{"transform":[{"filter":"datum.kind==='tl' && datum.k==='t'"}],"mark":{"type":"text","font":"DejaVu Sans","fontSize":16,"align":"left","baseline":"middle","color":"black","clip":true},"encoding":{"text":{"field":"t"}}},
{"transform":[{"filter":"datum.kind==='pl'"}],"mark":{"type":"text","font":"DejaVu Serif","fontSize":15,"fontWeight":"bold","align":"center","baseline":"middle","color":"black","clip":true},"encoding":{"text":{"field":"t"}}}
]},
{"width":557.5,"height":240,"view":{"stroke":null,"fill":"white"},
"data":{"values":[
{"line":1,"t":"Fɪɢ.\u2003\u20092.\u2003\u2009Spectra\u2003\u2009of\u2003\u2009mass-7\u2003\u2009particles\u2003\u2009from\u2003\u2009C¹³,\u2003\u2009O¹⁷,\u2003\u2009and\u2003\u2009O¹⁸"},
{"line":2,"t":"targets,\u2002\u2009and\u2002\u2009mass-7\u2002\u2009and\u2002\u2009-9\u2002\u2009particles\u2002\u2009from\u2002\u2009a\u2002\u2009F¹⁹\u2002\u2009target.\u2002\u2009These\u2002\u2009spectra"},
{"line":3,"t":"were\u2003\u2009obtained\u2003\u2009simultaneously\u2003\u2009with\u2003\u2009corresponding\u2003\u2009mass-6\u2003\u2009spectra"},
{"line":4,"t":"of Ref. 7 by energy plus time-of-flight analyses."}
]},
"encoding":{"x":{"datum":0,"type":"quantitative","scale":{"domain":[0,1]},"axis":null},
"y":{"field":"line","type":"quantitative","scale":{"domain":[-9.424,5.121],"reverse":true,"nice":false,"zero":false},"axis":null},
"text":{"field":"t"}},
"layer":[
{"transform":[{"filter":"datum.line===1"}],"mark":{"type":"text","font":"DejaVu Serif","fontSize":15,"align":"left","baseline":"middle","color":"black","clip":true,"dx":24}},
{"transform":[{"filter":"datum.line!==1"}],"mark":{"type":"text","font":"DejaVu Serif","fontSize":15,"align":"left","baseline":"middle","color":"black","clip":true}}
]}
],"spacing":2.5,"resolve":{"scale":{"x":"independent","y":"independent"}}}
],
"spacing":65.35
}
